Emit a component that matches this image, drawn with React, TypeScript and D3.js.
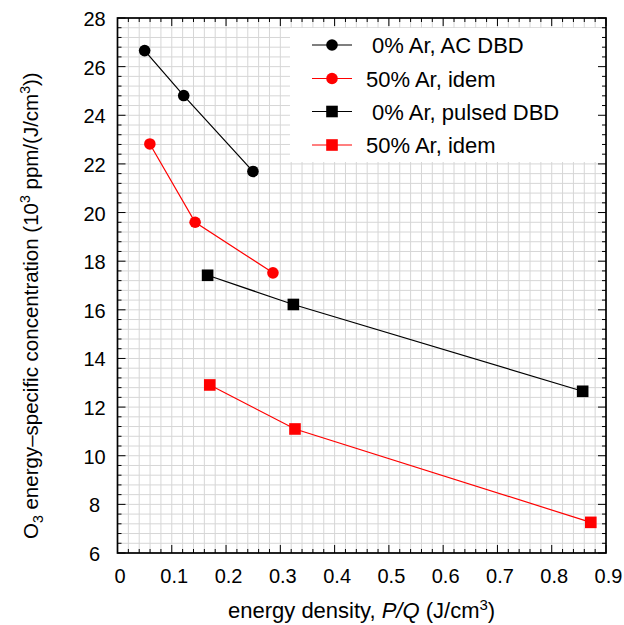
import React from "react";
import * as d3 from "d3";

const xTicks = [0, 0.1, 0.2, 0.3, 0.4, 0.5, 0.6, 0.7, 0.8, 0.9];
const yTicks = [6, 8, 10, 12, 14, 16, 18, 20, 22, 24, 26, 28];

const acArX = [0.05, 0.122, 0.2495];
const acArY = [26.66, 24.81, 21.69];
const acHalfX = [0.0596, 0.143, 0.2864];
const acHalfY = [22.82, 19.6, 17.52];
const puArX = [0.166, 0.324, 0.857];
const puArY = [17.42, 16.22, 12.65];
const puHalfX = [0.17, 0.327, 0.872];
const puHalfY = [12.91, 11.1, 7.26];

const seriesNames = [" 0% Ar, AC DBD", "50% Ar, idem", " 0% Ar, pulsed DBD", "50% Ar, idem"];

const series = [
  { name: seriesNames[0], xs: acArX, ys: acArY, color: "#000", shape: "circle" },
  { name: seriesNames[1], xs: acHalfX, ys: acHalfY, color: "#ff0000", shape: "circle" },
  { name: seriesNames[2], xs: puArX, ys: puArY, color: "#000", shape: "square" },
  { name: seriesNames[3], xs: puHalfX, ys: puHalfY, color: "#ff0000", shape: "square" },
];

const L = 117.5, R = 606, T = 18, B = 553;
const FONT = "'Liberation Sans', Arial, sans-serif";

export default function App() {
  const x = d3.scaleLinear().domain([0, 0.9]).range([L, R]);
  const y = d3.scaleLinear().domain([6, 28]).range([B, T]);
  const xMinor = d3.range(0, 0.9001, 0.02);
  const yMinor = d3.range(6, 28.001, 0.4);
  const line = d3.line<[number, number]>().x((d) => x(d[0])).y((d) => y(d[1]));

  const marker = (shape: string, cx: number, cy: number, color: string, key: string) =>
    shape === "circle" ? (
      <circle key={key} cx={cx} cy={cy} r={5.8} fill={color} />
    ) : (
      <rect key={key} x={cx - 5.8} y={cy - 5.8} width={11.6} height={11.6} fill={color} />
    );

  const legX = 290, legY = 28, legW = R - 290, legH = 134;
  const rowY = [45, 78.5, 111.5, 145];

  return (
    <svg width={624} height={625} style={{ display: "block", position: "absolute", left: 0, top: 0 }} fontFamily={FONT}>
      <rect x={0} y={0} width={624} height={625} fill="#fff" />
      {/* grid */}
      <g stroke="#d6d6d6" strokeWidth={1}>
        {xMinor.map((v, i) => (
          <line key={"gx" + i} x1={x(v)} x2={x(v)} y1={T} y2={B} />
        ))}
        {yMinor.map((v, i) => (
          <line key={"gy" + i} x1={L} x2={R} y1={y(v)} y2={y(v)} />
        ))}
      </g>
      {/* legend background */}
      <rect x={legX} y={legY} width={legW} height={legH} fill="#fff" />
      {/* ticks */}
      <g stroke="#000" strokeWidth={1}>
        {xMinor.map((v, i) => {
          const major = Math.abs(v * 10 - Math.round(v * 10)) < 1e-6;
          const len = major ? 8 : 4;
          return (
            <g key={"tx" + i}>
              <line x1={x(v)} x2={x(v)} y1={B} y2={B - len} />
              <line x1={x(v)} x2={x(v)} y1={T} y2={T + len} />
            </g>
          );
        })}
        {yMinor.map((v, i) => {
          const major = Math.abs(v / 2 - Math.round(v / 2)) < 1e-6;
          const len = major ? 8 : 4;
          return (
            <g key={"ty" + i}>
              <line x1={L} x2={L + len} y1={y(v)} y2={y(v)} />
              <line x1={R} x2={R - len} y1={y(v)} y2={y(v)} />
            </g>
          );
        })}
      </g>
      {/* series */}
      {series.map((s, si) => {
        const pts = s.xs.map((v, i) => [v, s.ys[i]] as [number, number]);
        return (
          <g key={"s" + si}>
            <path d={line(pts) || ""} fill="none" stroke={s.color} strokeWidth={1.2} />
            {pts.map((p, i) => marker(s.shape, x(p[0]), y(p[1]), s.color, "m" + si + "_" + i))}
          </g>
        );
      })}
      {/* legend entries */}
      {series.map((s, si) => (
        <g key={"l" + si}>
          <line x1={312} x2={352} y1={rowY[si]} y2={rowY[si]} stroke={s.color} strokeWidth={1.2} />
          {marker(s.shape, 332, rowY[si], s.color, "lm" + si)}
          <text x={366} y={rowY[si] + 8} fontSize={22} fill="#000" style={{ whiteSpace: "pre" }}>
            {s.name}
          </text>
        </g>
      ))}
      {/* frame */}
      <rect x={L} y={T} width={R - L} height={B - T} fill="none" stroke="#000" strokeWidth={1.7} />
      {/* tick labels */}
      {xTicks.map((v) => (
        <text key={"xl" + v} x={x(v) + 2.5} y={583} fontSize={20} textAnchor="middle" fill="#000">
          {v === 0 ? "0" : v.toFixed(1)}
        </text>
      ))}
      {yTicks.map((v) => (
        <text key={"yl" + v} x={94.5} y={y(v) + 8} fontSize={20} textAnchor="middle" fill="#000">
          {v}
        </text>
      ))}
      {/* axis titles */}
      <text x={228} y={618} fontSize={22} textAnchor="start" fill="#000">
        energy density, <tspan fontStyle="italic">P/Q</tspan> (J/cm<tspan dy={-8} fontSize={15}>3</tspan>
        <tspan dy={8}>)</tspan>
      </text>
      <text transform={`translate(37.5,539) rotate(-90)`} fontSize={20.5} textAnchor="start" fill="#000">
        O<tspan dy={5} fontSize={14}>3</tspan>
        <tspan dy={-5}> energy–specific concentration (10</tspan>
        <tspan dy={-8} fontSize={14}>3</tspan>
        <tspan dy={8}> ppm/(J/cm</tspan>
        <tspan dy={-8} fontSize={14}>3</tspan>
        <tspan dy={8}>))</tspan>
      </text>
    </svg>
  );
}
